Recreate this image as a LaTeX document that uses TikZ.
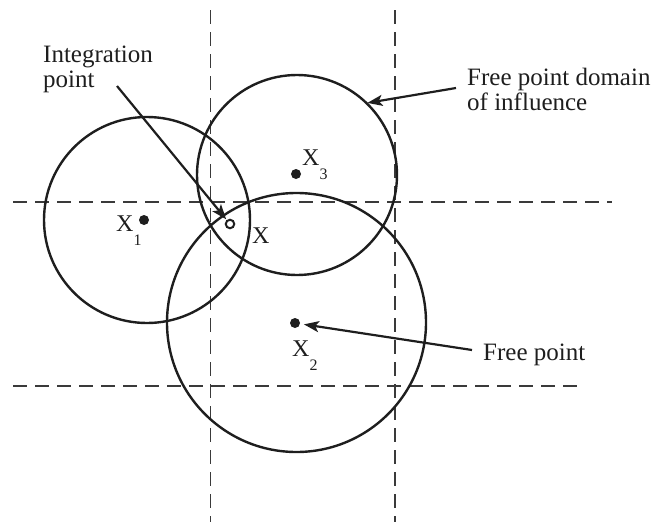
\documentclass[tikz,border=0pt]{standalone}
\usepackage{fontspec}
\setmainfont{Liberation Serif}
\usetikzlibrary{arrows.meta}
\definecolor{ink}{HTML}{1E1E1E}
\definecolor{dashc}{HTML}{3A3A3A}
\tikzset{
  grid line/.style={draw=dashc, line width=1.7pt, dash pattern=on 14pt off 8pt},
  influence/.style={circle, draw=ink, line width=2.4pt, inner sep=0pt, outer sep=0pt},
  fpdot/.style={circle, fill=ink, inner sep=0pt, minimum size=10pt},
  ipt/.style={circle, draw=ink, fill=white, line width=2pt, inner sep=0pt, minimum size=8.5pt},
  lbl/.style={text=ink, inner sep=0pt, font=\fontsize{25}{25}\selectfont},
  ptlbl/.style={text=ink, inner sep=0pt, font=\fontsize{24}{25}\selectfont, anchor=base west},
  pointer/.style={draw=ink, line width=2.2pt, -{Stealth[length=15pt,width=11pt,inset=3.5pt]}},
}
\newcommand{\subx}[1]{X\raisebox{-14pt}{\fontsize{16}{16}\selectfont #1}}
\begin{document}
\begin{tikzpicture}[x=1pt,y=-1pt]
\useasboundingbox (0,0) rectangle (658,522);
% dashed grid lines
\coordinate (v1t) at (210.5,10); \coordinate (v1b) at (210.5,522);
\coordinate (v2t) at (395,10); \coordinate (v2b) at (395,522);
\coordinate (h1l) at (13,202); \coordinate (h1r) at (612,202);
\coordinate (h2l) at (13,386); \coordinate (h2r) at (583,386);
\draw[grid line] (v1t) -- (v1b);
\draw[grid line] (v2t) -- (v2b);
\draw[grid line] (h1l) -- (h1r);
\draw[grid line] (h2l) -- (h2r);
% domains of influence
\node[influence, minimum size=206pt] (c1) at (147,220) {};
\node[influence, minimum size=200pt] (c3) at (297,175) {};
\node[influence, minimum size=259pt] (c2) at (296.5,322.5) {};
% free points
\node[fpdot] (x1) at (144,220) {};
\node[fpdot] (x3) at (296,174) {};
\node[fpdot] (x2) at (295,323) {};
\node[ipt] (ip) at (230,224) {};
% point labels
\node[ptlbl] (lx1) at (116,231) {\subx{1}};
\node[ptlbl] (lx3) at (302,165) {\subx{3}};
\node[ptlbl] (lx2) at (292,356) {\subx{2}};
\node[ptlbl] (lx) at (252,243) {X};
% text labels
\node[lbl, anchor=base west, align=left] (tip) at (43,87) {Integration\\point};
\node[lbl, anchor=base west, align=left] (tdom) at (467,110) {Free point domain\\of influence};
\node[lbl, anchor=base west] (tfp) at (483,360) {Free point};
% pointers
\coordinate (ips) at (117,86);
\coordinate (doms) at (456,88);
\coordinate (fps) at (472,350);
\draw[pointer, shorten >=6pt] (ips) -- (ip.center);
\draw[pointer, shorten >=1pt] (doms) -- (c3.46);
\draw[pointer, shorten >=9pt] (fps) -- (x2.center);
\end{tikzpicture}
\end{document}
